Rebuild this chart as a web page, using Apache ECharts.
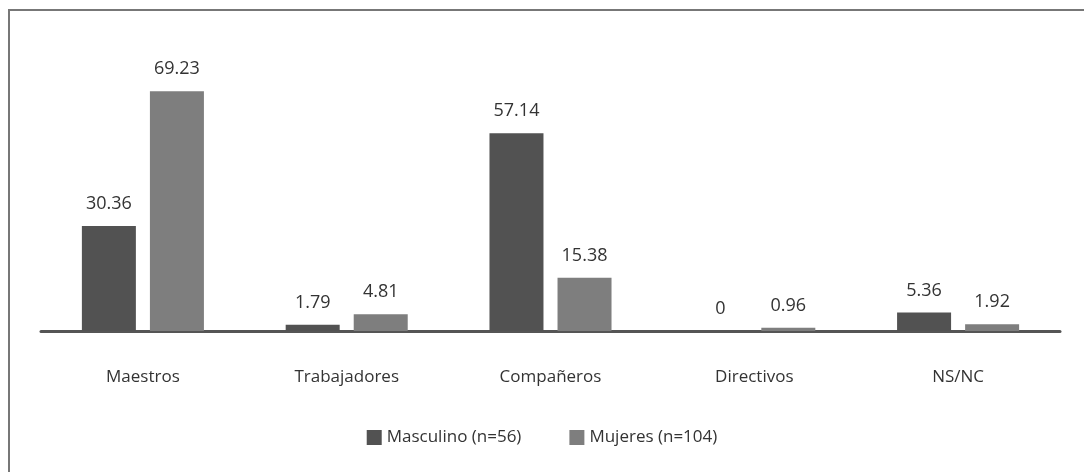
<!DOCTYPE html>
<html>
<head>
<meta charset="utf-8">
<script src="https://cdn.jsdelivr.net/npm/echarts@6/dist/echarts.min.js"></script>
<style>
  html, body { margin: 0; padding: 0; background: #fff; }
  #frame {
    position: absolute; left: 8px; top: 9px; right: 0; bottom: 0;
    border-left: 2px solid #777; border-top: 2px solid #777;
  }
  #chart { position: absolute; left: 0; top: 0; width: 1084px; height: 472px; }
</style>
</head>
<body>
<div id="frame"></div>
<div id="chart"></div>
<script>
  var categories = ['Maestros', 'Trabajadores', 'Compañeros', 'Directivos', 'NS/NC'];
  var masculino = [30.36, 1.79, 57.14, 0, 5.36];
  var mujeres = [69.23, 4.81, 15.38, 0.96, 1.92];
  var seriesNames = ['Masculino (n=56)', 'Mujeres (n=104)'];

  var fontFam = '"Open Sans", "Noto Sans", sans-serif';
  var myChart = echarts.init(document.getElementById('chart'));

  var labelStyle = {
    show: true,
    position: 'top',
    distance: 13,
    color: '#333',
    fontSize: 18,
    fontFamily: fontFam
  };

  var option = {
    animation: false,
    backgroundColor: 'transparent',
    grid: { left: 41, right: 24, top: 54, bottom: 141 },
    legend: {
      bottom: 21,
      left: 'center',
      itemWidth: 15,
      itemHeight: 15,
      itemGap: 48,
      icon: 'rect',
      textStyle: { color: '#333', fontSize: 17, fontFamily: fontFam },
      data: seriesNames
    },
    xAxis: {
      type: 'category',
      data: categories,
      axisTick: { show: false },
      axisLine: { lineStyle: { color: '#555', width: 3 } },
      axisLabel: { margin: 38, color: '#333', fontSize: 17, fontFamily: fontFam }
    },
    yAxis: {
      type: 'value',
      min: 0,
      max: 80,
      show: false
    },
    series: [{
      name: seriesNames[0],
      type: 'bar',
      barWidth: 54,
      barGap: '26%',
      itemStyle: { color: '#525252' },
      label: labelStyle,
      data: masculino
    }, {
      name: seriesNames[1],
      type: 'bar',
      barWidth: 54,
      itemStyle: { color: '#7e7e7e' },
      label: labelStyle,
      data: mujeres
    }]
  };
  myChart.setOption(option);
</script>
</body>
</html>
